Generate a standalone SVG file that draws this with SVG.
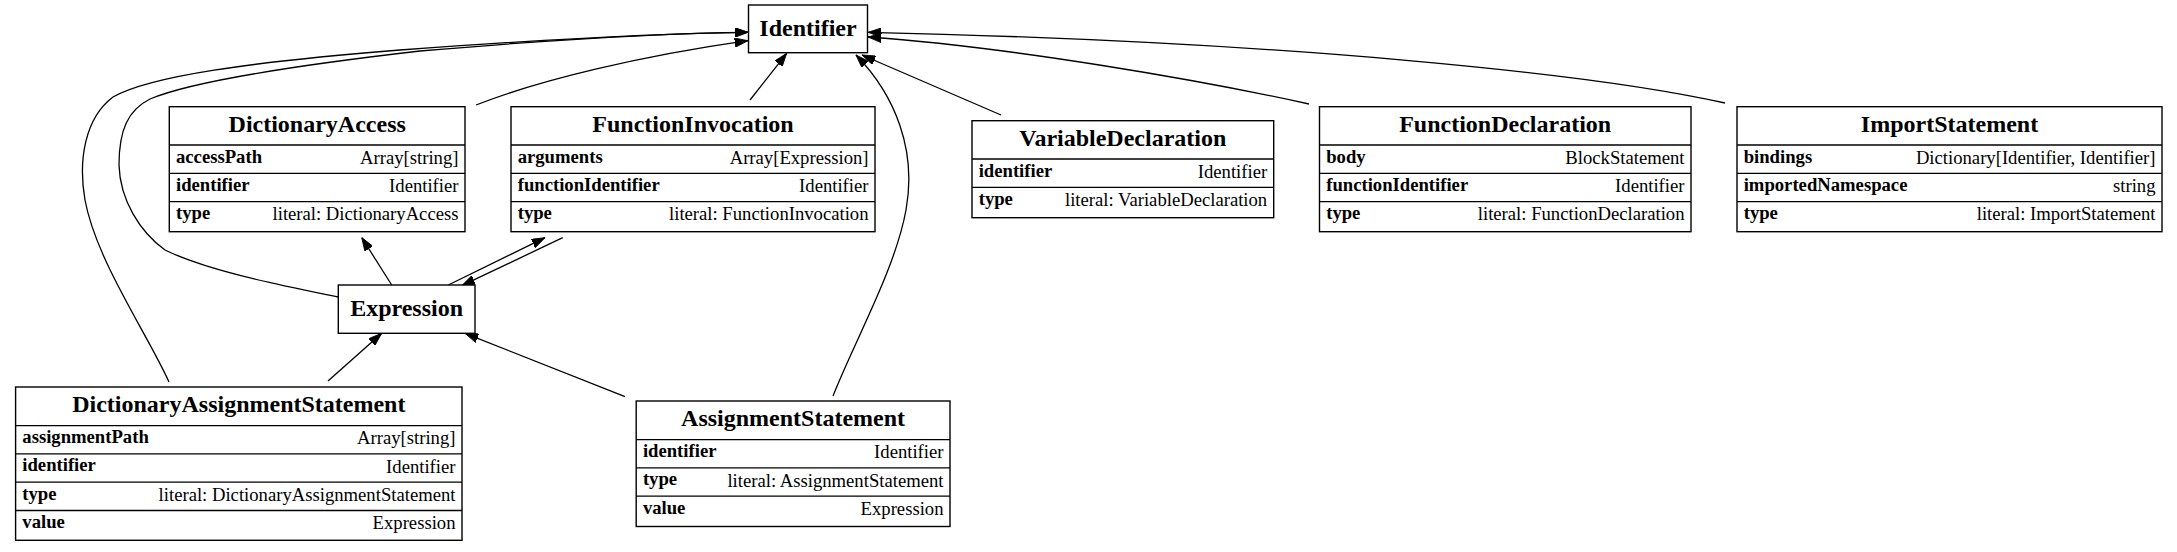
<svg xmlns="http://www.w3.org/2000/svg" width="2177" height="552" viewBox="0 0 2177 552">
<style>
  .box { fill: #ffffff; stroke: #000000; stroke-width: 1.4; }
  .rule { stroke: #000000; stroke-width: 1.3; }
  .title { font-family: "Liberation Serif", "Times New Roman", serif; font-weight: bold; font-size: 24px; text-anchor: middle; fill: #000; }
  .fname { font-family: "Liberation Serif", "Times New Roman", serif; font-weight: bold; font-size: 18.67px; fill: #000; }
  .fval { font-family: "Liberation Serif", "Times New Roman", serif; font-size: 18.67px; text-anchor: end; fill: #000; }
  .edge { fill: none; stroke: #000000; stroke-width: 1.3; marker-end: url(#ah); }
</style>
<defs>
  <marker id="ah" markerUnits="userSpaceOnUse" viewBox="0 0 13.3 9.4" markerWidth="13.3" markerHeight="9.4" refX="13.3" refY="4.7" orient="auto">
    <path d="M0,0 L13.3,4.7 L0,9.4 z" fill="#000" stroke="#000" stroke-width="0.8"/>
  </marker>
</defs>
<rect width="2177" height="552" fill="#ffffff"/>

<g id="edges">
  <!-- DictionaryAssignmentStatement -> Identifier -->
  <path class="edge" d="M169,382 C148,335 96,260 85,200 C78,160 85,118 113,97 C150,76 250,62 400,50 C550,39 680,33 748,32.3"/>
  <!-- Expression -> Identifier -->
  <path class="edge" d="M338,297 C290,287 210,272 165,250 C140,232 120,200 119,165 C119,130 128,110 150,99 C190,82 290,66 420,51 C560,39 680,33 748,32.3"/>
  <!-- DictionaryAccess -> Identifier -->
  <path class="edge" d="M476,105 C540,80 640,56 748,40.7"/>
  <!-- FunctionInvocation -> Identifier -->
  <path class="edge" d="M750,100 L786.7,53.3"/>
  <!-- AssignmentStatement -> Identifier -->
  <path class="edge" d="M833,396 C855,340 895,270 906,210 C917,150 895,95 856,55"/>
  <!-- VariableDeclaration -> Identifier -->
  <path class="edge" d="M1001,115 L862,55"/>
  <!-- FunctionDeclaration -> Identifier -->
  <path class="edge" d="M1309,104 C1200,80 1010,47 868,37"/>
  <!-- ImportStatement -> Identifier -->
  <path class="edge" d="M1725,103 C1600,75 1300,42 868,32.3"/>
  <!-- Expression -> DictionaryAccess -->
  <path class="edge" d="M391.7,285 L361.7,237.5"/>
  <!-- Expression -> FunctionInvocation -->
  <path class="edge" d="M448.3,285 L545,237.7"/>
  <!-- FunctionInvocation -> Expression -->
  <path class="edge" d="M562.7,237.7 L461.7,285.7"/>
  <!-- DictionaryAssignmentStatement -> Expression -->
  <path class="edge" d="M328,381 L381.7,333.3"/>
  <!-- AssignmentStatement -> Expression -->
  <path class="edge" d="M625,396.7 L465,333.3"/>
</g>

<g id="Identifier">
  <rect class="box" x="748.5" y="5" width="119" height="47.7"/>
  <text class="title" x="808" y="35.5">Identifier</text>
</g>

<g id="Expression">
  <rect class="box" x="338.3" y="285" width="136.7" height="48.3"/>
  <text class="title" x="406.6" y="315.7">Expression</text>
</g>

<g id="DictionaryAccess">
  <rect class="box" x="169.3" y="106.7" width="295.7" height="125"/>
  <line class="rule" x1="169.3" y1="145" x2="465" y2="145"/>
  <line class="rule" x1="169.3" y1="173.3" x2="465" y2="173.3"/>
  <line class="rule" x1="169.3" y1="201.6" x2="465" y2="201.6"/>
  <text class="title" x="317.2" y="131.7">DictionaryAccess</text>
  <text class="fname" x="176" y="162.5">accessPath</text>
  <text class="fval" x="458.5" y="163.7">Array[string]</text>
  <text class="fname" x="176" y="190.8">identifier</text>
  <text class="fval" x="458.5" y="192">Identifier</text>
  <text class="fname" x="176" y="219.1">type</text>
  <text class="fval" x="458.5" y="220.3">literal: DictionaryAccess</text>
</g>

<g id="FunctionInvocation">
  <rect class="box" x="511" y="106.7" width="364" height="125"/>
  <line class="rule" x1="511" y1="145" x2="875" y2="145"/>
  <line class="rule" x1="511" y1="173.3" x2="875" y2="173.3"/>
  <line class="rule" x1="511" y1="201.6" x2="875" y2="201.6"/>
  <text class="title" x="693" y="131.7">FunctionInvocation</text>
  <text class="fname" x="517.7" y="162.5">arguments</text>
  <text class="fval" x="868.5" y="163.7">Array[Expression]</text>
  <text class="fname" x="517.7" y="190.8">functionIdentifier</text>
  <text class="fval" x="868.5" y="192">Identifier</text>
  <text class="fname" x="517.7" y="219.1">type</text>
  <text class="fval" x="868.5" y="220.3">literal: FunctionInvocation</text>
</g>

<g id="VariableDeclaration">
  <rect class="box" x="972" y="120.7" width="301.7" height="97"/>
  <line class="rule" x1="972" y1="159" x2="1273.7" y2="159"/>
  <line class="rule" x1="972" y1="187.3" x2="1273.7" y2="187.3"/>
  <text class="title" x="1122.8" y="145.7">VariableDeclaration</text>
  <text class="fname" x="978.7" y="176.5">identifier</text>
  <text class="fval" x="1267.2" y="177.7">Identifier</text>
  <text class="fname" x="978.7" y="204.8">type</text>
  <text class="fval" x="1267.2" y="206">literal: VariableDeclaration</text>
</g>

<g id="FunctionDeclaration">
  <rect class="box" x="1319.5" y="106.7" width="371.5" height="125"/>
  <line class="rule" x1="1319.5" y1="145" x2="1691" y2="145"/>
  <line class="rule" x1="1319.5" y1="173.3" x2="1691" y2="173.3"/>
  <line class="rule" x1="1319.5" y1="201.6" x2="1691" y2="201.6"/>
  <text class="title" x="1505.2" y="131.7">FunctionDeclaration</text>
  <text class="fname" x="1326.2" y="162.5">body</text>
  <text class="fval" x="1684.5" y="163.7">BlockStatement</text>
  <text class="fname" x="1326.2" y="190.8">functionIdentifier</text>
  <text class="fval" x="1684.5" y="192">Identifier</text>
  <text class="fname" x="1326.2" y="219.1">type</text>
  <text class="fval" x="1684.5" y="220.3">literal: FunctionDeclaration</text>
</g>

<g id="ImportStatement">
  <rect class="box" x="1737" y="106.7" width="425" height="125"/>
  <line class="rule" x1="1737" y1="145" x2="2162" y2="145"/>
  <line class="rule" x1="1737" y1="173.3" x2="2162" y2="173.3"/>
  <line class="rule" x1="1737" y1="201.6" x2="2162" y2="201.6"/>
  <text class="title" x="1949.5" y="131.7">ImportStatement</text>
  <text class="fname" x="1743.7" y="162.5">bindings</text>
  <text class="fval" x="2155.5" y="163.7">Dictionary[Identifier, Identifier]</text>
  <text class="fname" x="1743.7" y="190.8">importedNamespace</text>
  <text class="fval" x="2155.5" y="192">string</text>
  <text class="fname" x="1743.7" y="219.1">type</text>
  <text class="fval" x="2155.5" y="220.3">literal: ImportStatement</text>
</g>

<g id="DictionaryAssignmentStatement">
  <rect class="box" x="15.6" y="387" width="446.4" height="153.3"/>
  <line class="rule" x1="15.6" y1="425.6" x2="462" y2="425.6"/>
  <line class="rule" x1="15.6" y1="453.9" x2="462" y2="453.9"/>
  <line class="rule" x1="15.6" y1="482.2" x2="462" y2="482.2"/>
  <line class="rule" x1="15.6" y1="510.5" x2="462" y2="510.5"/>
  <text class="title" x="238.8" y="412">DictionaryAssignmentStatement</text>
  <text class="fname" x="22.3" y="443.1">assignmentPath</text>
  <text class="fval" x="455.5" y="444.3">Array[string]</text>
  <text class="fname" x="22.3" y="471.4">identifier</text>
  <text class="fval" x="455.5" y="472.6">Identifier</text>
  <text class="fname" x="22.3" y="499.7">type</text>
  <text class="fval" x="455.5" y="500.9">literal: DictionaryAssignmentStatement</text>
  <text class="fname" x="22.3" y="528">value</text>
  <text class="fval" x="455.5" y="529.2">Expression</text>
</g>

<g id="AssignmentStatement">
  <rect class="box" x="636.2" y="401" width="313.8" height="125.5"/>
  <line class="rule" x1="636.2" y1="439.6" x2="950" y2="439.6"/>
  <line class="rule" x1="636.2" y1="467.9" x2="950" y2="467.9"/>
  <line class="rule" x1="636.2" y1="496.2" x2="950" y2="496.2"/>
  <text class="title" x="793.1" y="426">AssignmentStatement</text>
  <text class="fname" x="642.9" y="457.1">identifier</text>
  <text class="fval" x="943.5" y="458.3">Identifier</text>
  <text class="fname" x="642.9" y="485.4">type</text>
  <text class="fval" x="943.5" y="486.6">literal: AssignmentStatement</text>
  <text class="fname" x="642.9" y="513.7">value</text>
  <text class="fval" x="943.5" y="514.9">Expression</text>
</g>
</svg>
